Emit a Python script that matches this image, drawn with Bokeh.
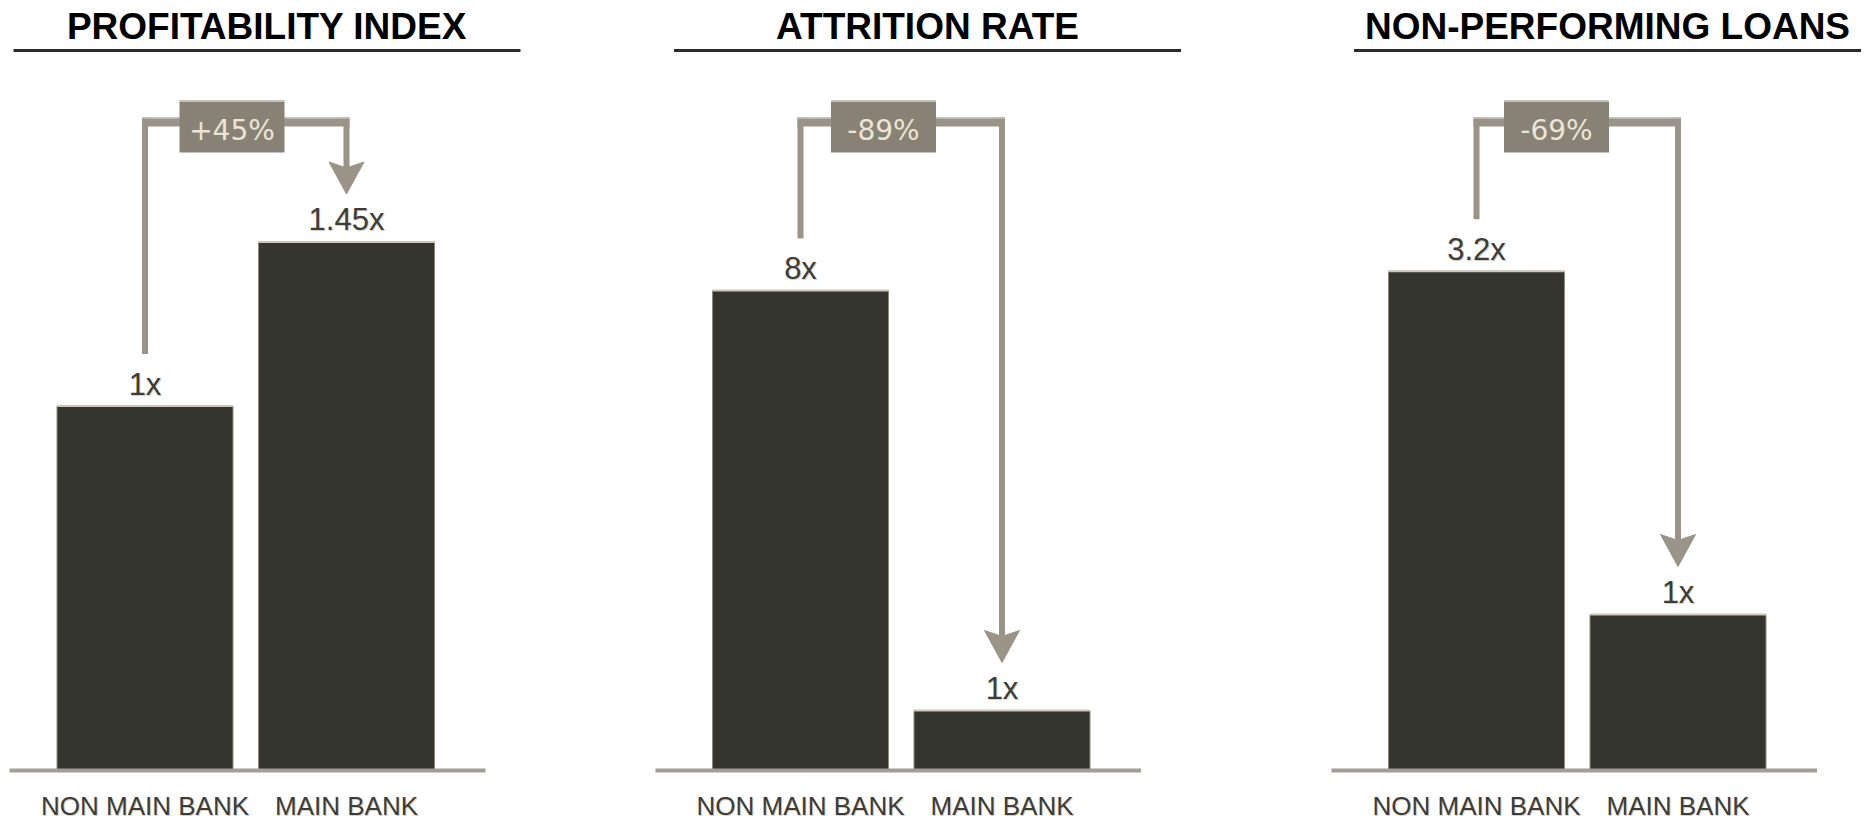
from bokeh.plotting import figure
from bokeh.layouts import row
from bokeh.models import Range1d
from bokeh.core.properties import value
from bokeh.embed import file_html
from bokeh.resources import INLINE

# ---------------- data ----------------
categories = ["NON MAIN BANK", "MAIN BANK"]
panel_titles = ["PROFITABILITY INDEX", "ATTRITION RATE", "NON-PERFORMING LOANS"]
profitability_index = [1.0, 1.45]
attrition_rate = [8.0, 1.0]
non_performing_loans = [3.2, 1.0]
change_labels = ["+45%", "-89%", "-69%"]

series = [profitability_index, attrition_rate, non_performing_loans]

# ---------------- layout (pixels) ----------------
CANVAS_H = 821
BASE_ROW = 770               # row of the zero line, counted from the top
SLOT = 201.5                 # distance between the two bar centres
BAR_W = 176
TEXT_LIFT = 12               # svg text sits lower than its alphabetic anchor
frame_widths = [587, 668, 614]
first_bar_px = [144.5, 213, 221]   # first bar centre from the panel's left edge
px_per_unit = [364.5, 60, 156]     # each panel has its own vertical scale
heading_off = [122, 127, 131]      # heading centre, right of the first bar
box_off = [87, 83, 80]             # change box centre, right of the first bar
baseline_left = [135.5, 145, 145]

# ---------------- colours ----------------
BAR = "#35352f"
BAR_EDGE = "#8d887f"
BAR_TOP = "#cdc5b5"
BRACKET = "#9a9388"
BRACKET_HI = "#c9c2b6"
BOX = "#878176"
BOX_TEXT = "#ece4d4"
LABEL = "#3d3c37"
LABEL_HALO = "#d8d0c2"
BASE = "#a39d94"
RULE = "#2b2b2b"

SANS = value("Liberation Sans")


def make_panel(i):
    vals = series[i]
    s = px_per_unit[i]
    w = frame_widths[i]
    x_start = -first_bar_px[i] / SLOT

    p = figure(width=w, height=CANVAS_H,
               x_range=Range1d(x_start, x_start + w / SLOT),
               y_range=Range1d((BASE_ROW - CANVAS_H) / s, BASE_ROW / s),
               output_backend="svg", toolbar_location=None, title=None,
               x_axis_location=None, y_axis_location=None, min_border=0,
               outline_line_color=None, background_fill_color="white",
               border_fill_color="white")
    p.grid.visible = False

    def ry(r):          # screen row -> data y
        return (BASE_ROW - r) / s

    def dx(px):
        return px / SLOT

    def dy(px):
        return px / s

    def ty(r):          # text baseline row -> data y
        return ry(r - TEXT_LIFT)

    xs = list(range(len(categories)))
    half = BAR_W / SLOT / 2

    # heading with its rule
    hx = dx(heading_off[i])
    p.text(x=[hx], y=[ty(38)], text=[panel_titles[i]], text_font=SANS,
           text_font_style="bold", text_font_size="37px", text_align="center",
           text_baseline="alphabetic", text_color="#000000")
    p.segment(x0=[hx - dx(253.5)], x1=[hx + dx(253.5)], y0=[ry(50)], y1=[ry(50)],
              line_width=3, line_color=RULE)

    # bars
    p.vbar(x=xs, top=vals, bottom=0, width=BAR_W / SLOT, fill_color=BAR,
           line_color=BAR_EDGE, line_width=1)
    p.segment(x0=[x - half for x in xs], x1=[x + half for x in xs], y0=vals, y1=vals,
              line_color=BAR_TOP, line_width=2)

    # zero line
    p.segment(x0=[-dx(baseline_left[i])], x1=[1 + dx(139)], y0=[0], y1=[0],
              line_width=4, line_color=BASE)

    # value labels (light halo underneath, dark text on top)
    value_text = [f"{v:g}x" for v in vals]
    value_y = [v + dy(10 + TEXT_LIFT) for v in vals]
    p.text(x=xs, y=value_y, text=value_text, text_font=SANS, text_font_size="31px",
           text_align="center", text_baseline="alphabetic", text_color=LABEL_HALO,
           x_offset=1, y_offset=1)
    p.text(x=xs, y=value_y, text=value_text, text_font=SANS, text_font_size="31px",
           text_align="center", text_baseline="alphabetic", text_color=LABEL)

    # category labels
    p.text(x=xs, y=[ty(817)] * len(xs), text=categories, text_font=SANS,
           text_font_size="26px", text_align="center", text_baseline="alphabetic",
           text_color=LABEL_HALO, x_offset=1, y_offset=1)
    p.text(x=xs, y=[ty(817)] * len(xs), text=categories, text_font=SANS,
           text_font_size="26px", text_align="center", text_baseline="alphabetic",
           text_color=LABEL)

    # bracket from the first bar to the second
    top_row = 117
    left_end = vals[0] + dy(52)
    tip = vals[1] + dy(48)
    head_h = dy(32)
    notch = dy(6)
    p.segment(x0=[0], x1=[0], y0=[ry(top_row)], y1=[left_end],
              line_width=6, line_color=BRACKET)
    p.segment(x0=[1], x1=[1], y0=[ry(top_row)], y1=[tip + head_h - notch],
              line_width=6, line_color=BRACKET)
    p.segment(x0=[-dx(3)], x1=[1 + dx(3)], y0=[ry(121.5)], y1=[ry(121.5)],
              line_width=9, line_color=BRACKET)
    p.segment(x0=[-dx(3)], x1=[1 + dx(3)], y0=[ry(117.5)], y1=[ry(117.5)],
              line_width=1.5, line_color=BRACKET_HI)
    p.patch(x=[1 - dx(17.5), 1, 1 + dx(17.5), 1],
            y=[tip + head_h, tip, tip + head_h, tip + head_h - notch],
            fill_color=BRACKET, line_color=BRACKET, line_width=1)

    # change box
    bx = dx(box_off[i])
    p.rect(x=[bx], y=[ry(126)], width=105, height=52, width_units="screen",
           height_units="screen", fill_color=BOX, line_color=None)
    p.segment(x0=[bx - dx(52.5)], x1=[bx + dx(52.5)], y0=[ry(100.75)], y1=[ry(100.75)],
              line_width=1.5, line_color=BRACKET_HI)
    p.text(x=[bx], y=[ty(142)], text=[change_labels[i]], text_font=value("DejaVu Sans"),
           text_font_size="28px", text_align="center", text_baseline="alphabetic",
           text_color=BOX_TEXT)
    return p


layout = row(*[make_panel(i) for i in range(len(series))])

open("out.html", "w").write(file_html(layout, INLINE))
